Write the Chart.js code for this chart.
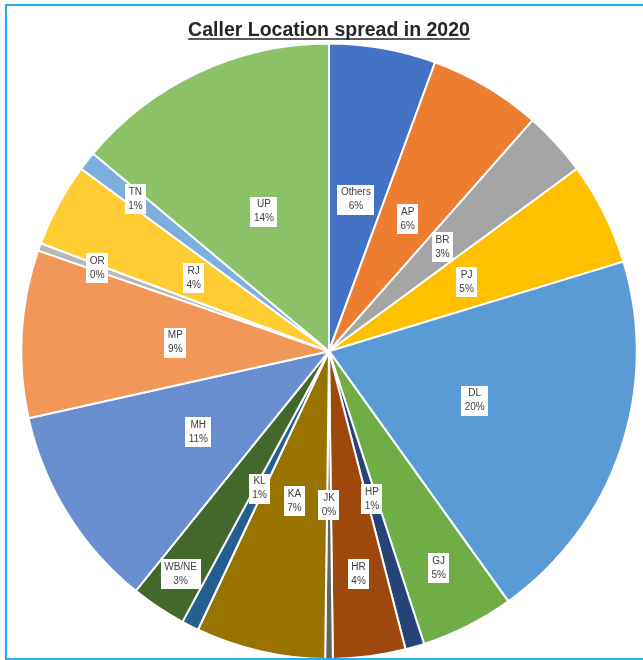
<!DOCTYPE html>
<html>
<head>
<meta charset="utf-8">
<script src="https://cdn.jsdelivr.net/npm/chart.js@4/dist/chart.umd.min.js"></script>
<style>
  html, body { margin: 0; padding: 0; background: #fff; overflow: hidden; }
  #frame {
    position: absolute; left: 5px; top: 4px;
    width: 680px; height: 652px;
    border: 2px solid #22aef0;
    pointer-events: none;
  }
  #wrap { position: absolute; left: 0; top: 0; width: 643px; height: 680px; }
</style>
</head>
<body>
<div id="wrap"><canvas id="pie" width="643" height="680"></canvas></div>
<div id="frame"></div>
<script>
// values (share of callers, %)
const regions = ['Others', 'AP', 'BR', 'PJ', 'DL', 'GJ', 'HP', 'HR', 'JK',
                 'KA', 'KL', 'WB/NE', 'MH', 'MP', 'OR', 'RJ', 'TN', 'UP'];
const shares = [5.6, 5.9, 3.4, 5.4, 19.8, 4.9, 1.0, 3.8, 0.4,
                6.8, 0.9, 2.9, 10.7, 8.8, 0.4, 4.4, 1.0, 13.9];
const sliceColors = ['#4472C4', '#ED7D31', '#A5A5A5', '#FFC000', '#5B9BD5', '#70AD47',
                     '#264478', '#9E480E', '#636363', '#997300', '#255E91', '#43682B',
                     '#698ED0', '#F1975A', '#B7B7B7', '#FFCD33', '#7CAFDD', '#8CC168'];
const chartTitle = 'Caller Location spread in 2020';

// labels pushed outwards by excel's best fit (fraction of radius)
const labelRadius = { 'GJ': 0.79, 'HR': 0.73, 'WB/NE': 0.87, 'TN': 0.8, 'OR': 0.8 };

const titleUnderline = {
    id: 'titleUnderline',
    afterDraw(chart) {
        const tb = chart.titleBlock;
        if (!tb) return;
        const ctx = chart.ctx;
        const font = Chart.helpers.toFont(chart.options.plugins.title.font);
        ctx.save();
        ctx.font = font.string;
        const w = ctx.measureText(chartTitle).width;
        const cx = (tb.left + tb.right) / 2;
        const pad = Chart.helpers.toPadding(chart.options.plugins.title.padding);
        const y = tb.top + pad.top + font.lineHeight / 2 + font.size * 0.42;
        ctx.strokeStyle = '#262626';
        ctx.lineWidth = 1.5;
        ctx.beginPath();
        ctx.moveTo(cx - w / 2, y);
        ctx.lineTo(cx + w / 2, y);
        ctx.stroke();
        ctx.restore();
    }
};

const sliceLabels = {
    id: 'sliceLabels',
    afterDatasetsDraw(chart) {
        const ctx = chart.ctx;
        const meta = chart.getDatasetMeta(0);
        const data = chart.data.datasets[0].data;
        const total = data.reduce((a, b) => a + b, 0);
        ctx.save();
        ctx.font = '10px "Liberation Sans", Arial, sans-serif';
        ctx.textAlign = 'center';
        ctx.textBaseline = 'middle';
        meta.data.forEach((arc, i) => {
            const p = arc.getProps(['x', 'y', 'startAngle', 'endAngle', 'outerRadius'], true);
            const mid = (p.startAngle + p.endAngle) / 2;
            const f = labelRadius[regions[i]] || 0.5;
            const x = p.x + Math.cos(mid) * p.outerRadius * f;
            const y = p.y + Math.sin(mid) * p.outerRadius * f;
            const l1 = regions[i];
            const l2 = Math.round(data[i] / total * 100) + '%';
            const w = Math.max(ctx.measureText(l1).width, ctx.measureText(l2).width) + 7;
            const h = 30;
            ctx.fillStyle = '#ffffff';
            ctx.fillRect(Math.round(x - w / 2), Math.round(y - h / 2), Math.round(w), h);
            ctx.fillStyle = '#404040';
            ctx.fillText(l1, x, y - 7);
            ctx.fillText(l2, x, y + 7);
        });
        ctx.restore();
    }
};

new Chart(document.getElementById('pie'), {
    type: 'pie',
    data: {
        labels: regions,
        datasets: [{
            data: shares,
            backgroundColor: sliceColors,
            borderColor: '#ffffff',
            borderWidth: 2,
            hoverOffset: 0
        }]
    },
    options: {
        responsive: false,
        animation: false,
        layout: { padding: { left: 19, right: 4, top: 0, bottom: 20 } },
        plugins: {
            legend: { display: false },
            tooltip: { enabled: false },
            title: {
                display: true,
                text: chartTitle,
                color: '#262626',
                font: { family: '"Liberation Sans", Arial, sans-serif', size: 19.5, weight: 'bold', lineHeight: 1.2 },
                padding: { top: 19, bottom: 0 }
            }
        }
    },
    plugins: [titleUnderline, sliceLabels]
});
</script>
</body>
</html>
